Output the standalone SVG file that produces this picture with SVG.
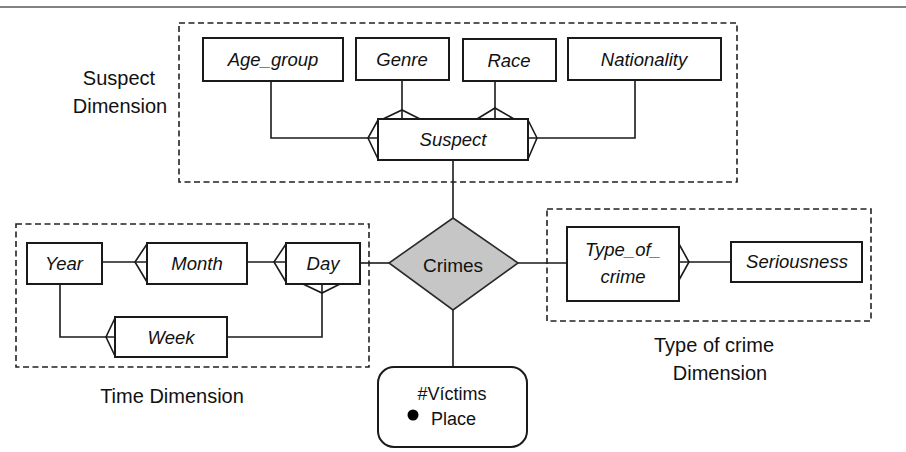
<svg xmlns="http://www.w3.org/2000/svg" width="906" height="452" viewBox="0 0 906 452">
<style>
.box{fill:#fff;stroke:#1a1a1a;stroke-width:2}
.dash{fill:none;stroke:#222;stroke-width:1.6;stroke-dasharray:6,3.5}
.ln{fill:none;stroke:#1a1a1a;stroke-width:1.6}
.lbl{font-family:"Liberation Sans",Arial,sans-serif;font-style:italic;font-size:18.5px;fill:#111;text-anchor:middle}
.cap{font-family:"Liberation Sans",Arial,sans-serif;font-size:20px;fill:#111;text-anchor:middle}
</style>
<rect width="906" height="452" fill="#fff"/>
<line x1="0" y1="7" x2="906" y2="7" stroke="#5a5a5a" stroke-width="1.6"/>

<g id="suspect-dimension">
<rect class="dash" x="179" y="23" width="558" height="159"/>
<text class="cap" x="119" y="85">Suspect</text>
<text class="cap" x="120" y="113">Dimension</text>
</g>
<g id="time-dimension">
<rect class="dash" x="16" y="224" width="353" height="143"/>
<text class="cap" x="172" y="403">Time Dimension</text>
</g>
<g id="crime-type-dimension">
<rect class="dash" x="547" y="209" width="324" height="112"/>
<text class="cap" x="714" y="352">Type of crime</text>
<text class="cap" x="720" y="380">Dimension</text>
</g>

<g id="connectors">
<!-- Suspect dimension -->
<polyline class="ln" points="271,81 271,138 378,138"/>
<polyline class="ln" points="378,120 368,138 378,159"/>
<polyline class="ln" points="635,80 635,138 528,138"/>
<polyline class="ln" points="528,120 537,138 528,159"/>
<line class="ln" x1="402" y1="80" x2="402" y2="119"/>
<polyline class="ln" points="383,119 402,110 420,119"/>
<line class="ln" x1="495" y1="81" x2="495" y2="119"/>
<polyline class="ln" points="477,119 495,108 514,119"/>
<line class="ln" x1="453" y1="160" x2="453" y2="218"/>
<!-- Time dimension -->
<line class="ln" x1="102" y1="262" x2="147" y2="262"/>
<polyline class="ln" points="147,244 135,262 147,282"/>
<line class="ln" x1="247" y1="262" x2="286" y2="262"/>
<polyline class="ln" points="286,244 274,262 286,282"/>
<polyline class="ln" points="60,284 60,337 115,337"/>
<polyline class="ln" points="115,318 106,337 115,356"/>
<polyline class="ln" points="227,337 322,337 322,284"/>
<polyline class="ln" points="303,284 322,293 340,284"/>
<line class="ln" x1="360" y1="263" x2="389" y2="263"/>
<!-- Type of crime -->
<line class="ln" x1="518" y1="263" x2="567" y2="263"/>
<line class="ln" x1="679" y1="262" x2="731" y2="262"/>
<polyline class="ln" points="679,244 689,262 679,280"/>
<!-- Victims -->
<line class="ln" x1="453" y1="310" x2="453" y2="367"/>
</g>

<g id="age-group"><rect class="box" x="203" y="38" width="140" height="43"/><text class="lbl" x="273" y="66">Age_group</text></g>
<g id="genre"><rect class="box" x="356" y="38" width="93" height="42"/><text class="lbl" x="402" y="66">Genre</text></g>
<g id="race"><rect class="box" x="463" y="39" width="93" height="42"/><text class="lbl" x="509" y="67">Race</text></g>
<g id="nationality"><rect class="box" x="568" y="38" width="153" height="42"/><text class="lbl" x="644" y="66">Nationality</text></g>
<g id="suspect"><rect class="box" x="378" y="119" width="150" height="41"/><text class="lbl" x="453" y="146">Suspect</text></g>

<g id="year"><rect class="box" x="27" y="243" width="75" height="41"/><text class="lbl" x="64" y="270">Year</text></g>
<g id="month"><rect class="box" x="147" y="243" width="100" height="41"/><text class="lbl" x="197" y="270">Month</text></g>
<g id="day"><rect class="box" x="286" y="243" width="74" height="41"/><text class="lbl" x="323" y="270">Day</text></g>
<g id="week"><rect class="box" x="115" y="317" width="112" height="40"/><text class="lbl" x="171" y="344">Week</text></g>

<g id="crimes"><polygon points="453,218 518,263 453,310 389,263" fill="#c6c6c6" stroke="#2a2a2a" stroke-width="1.6"/><text class="cap" x="453" y="272" style="font-size:19px">Crimes</text></g>

<g id="type-of-crime"><rect class="box" x="567" y="227" width="112" height="74"/><text class="lbl" x="623" y="256">Type_of_</text><text class="lbl" x="623" y="283">crime</text></g>
<g id="seriousness"><rect class="box" x="731" y="242" width="131" height="40"/><text class="lbl" x="797" y="268">Seriousness</text></g>

<g id="victims"><rect class="box" x="378" y="367" width="149" height="80" rx="16" ry="16"/>
<text class="cap" x="452" y="400" style="font-size:18px">#Víctims</text>
<circle cx="413" cy="415" r="5.5" fill="#000"/>
<text class="cap" x="431" y="425" style="font-size:18px;text-anchor:start">Place</text></g>
</svg>
